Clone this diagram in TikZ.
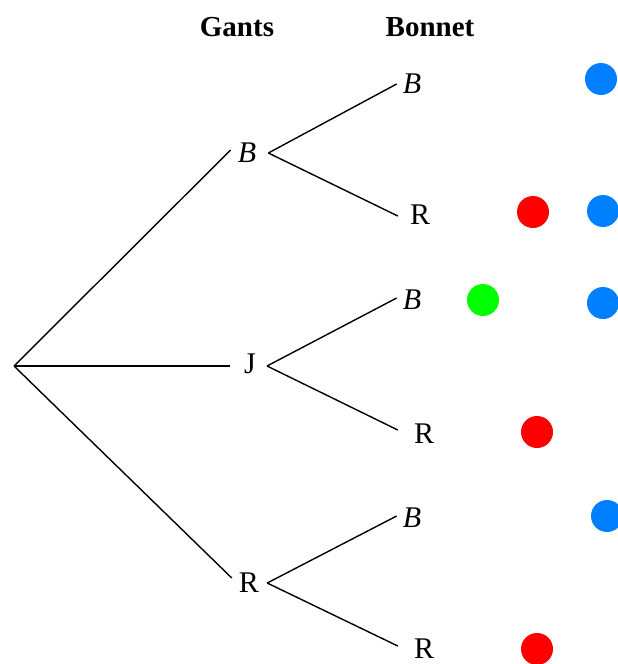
\documentclass[tikz,border=0pt]{standalone}
\usepackage{fontspec}
\setmainfont{Liberation Serif}
\definecolor{dotblue}{RGB}{0,128,255}
\definecolor{dotred}{RGB}{255,0,0}
\definecolor{dotgreen}{RGB}{0,255,0}
\begin{document}
\begin{tikzpicture}[x=1pt,y=-1pt,
  lbl/.style={font=\fontsize{30}{30}\selectfont, inner sep=6pt},
  hdr/.style={font=\fontsize{29}{29}\selectfont\bfseries},
  edge/.style={line width=1.4pt, black},
  dot/.style={circle, fill=#1, inner sep=0pt, minimum size=32pt}]
\useasboundingbox (0,0) rectangle (618,664);
% headers
\node[hdr] (hg) at (237,27) {Gants};
\node[hdr] (hb) at (430,27) {Bonnet};
% root
\coordinate (root) at (14,366);
% level 1
\node[lbl] (b1) at (247,153) {\itshape B};
\node[lbl] (j1) at (250,364) {J};
\node[lbl] (r1) at (249,583) {R};
% level 2
\node[lbl] (bb) at (412,84) {\itshape B};
\node[lbl] (br) at (420,215) {R};
\node[lbl] (jb) at (412,300) {\itshape B};
\node[lbl] (jr) at (424,434) {R};
\node[lbl] (rb) at (412,518) {\itshape B};
\node[lbl, inner sep=1pt] (rr) at (424,649) {R};
% edges
\draw[edge] (root) -- ([xshift=-1pt,yshift=3pt]b1.west);
\draw[edge] (root) -- ([xshift=-8pt,yshift=-2pt]j1.west);
\draw[edge] (root) -- ([xshift=-1pt,yshift=5pt]r1.west);
\draw[edge] ([xshift=6pt]b1.east) -- ([xshift=0pt]bb.west);
\draw[edge] ([xshift=6pt]b1.east) -- ([xshift=-6pt,yshift=-1pt]br.west);
\draw[edge] ([xshift=5pt,yshift=-2pt]j1.east) -- ([xshift=0pt,yshift=2pt]jb.west);
\draw[edge] ([xshift=5pt,yshift=-2pt]j1.east) -- ([xshift=-10pt,yshift=4pt]jr.west);
\draw[edge] ([xshift=2pt]r1.east) -- ([xshift=0pt,yshift=2pt]rb.west);
\draw[edge] ([xshift=2pt]r1.east) -- ([xshift=-15pt,yshift=3pt]rr.west);
% dots
\node[dot=dotblue] (d1) at (601,79) {};
\node[dot=dotred] (d2) at (533,212) {};
\node[dot=dotblue] (d3) at (603,211) {};
\node[dot=dotgreen] (d4) at (483,300) {};
\node[dot=dotblue] (d5) at (603,303) {};
\node[dot=dotred] (d6) at (537,432) {};
\node[dot=dotblue] (d7) at (607,516) {};
\node[dot=dotred] (d8) at (537,649) {};
\end{tikzpicture}
\end{document}
